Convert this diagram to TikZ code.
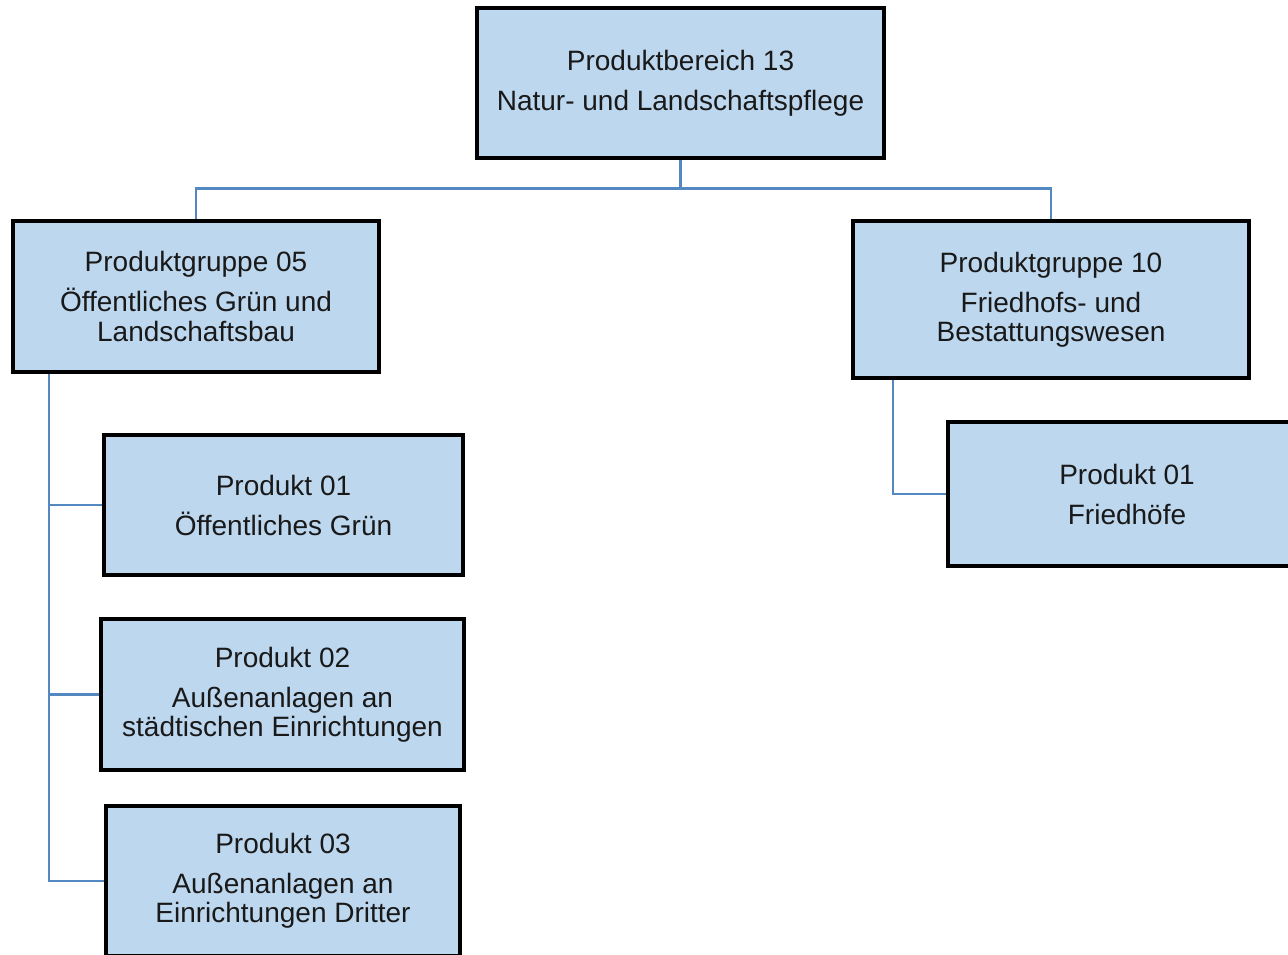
\documentclass[tikz,border=0pt]{standalone}
\usepackage{fontspec}
\setmainfont{Liberation Sans}
\definecolor{boxblue}{RGB}{189,215,238}
\definecolor{lineblue}{RGB}{84,136,193}
\tikzset{
  unit/.style={draw=black, line width=1.7pt, fill=boxblue, align=center, inner sep=0pt,
    text=black!90, font=\fontsize{21}{22}\selectfont},
  link/.style={draw=lineblue, line width=2pt}
}
\begin{document}
\begin{tikzpicture}[x=0.75pt, y=-0.75pt]
    \clip (0,0) rectangle (1288,954);
    \fill[white] (0,0) rectangle (1288,954);

    \node[unit, minimum width=304.5pt, minimum height=111.75pt] (pb13) at (680.5,83) {Produktbereich 13\\[8pt]Natur- und Landschaftspflege};
    \node[unit, minimum width=273.75pt, minimum height=112.5pt] (pg05) at (196,296.5) {Produktgruppe 05\\[8pt]Öffentliches Grün und\\Landschaftsbau};
    \node[unit, minimum width=296.25pt, minimum height=117pt] (pg10) at (1051,299.5) {Produktgruppe 10\\[8pt]Friedhofs- und\\Bestattungswesen};
    \node[unit, minimum width=268.5pt, minimum height=104.25pt] (p01) at (283.5,505) {Produkt 01\\[8pt]Öffentliches Grün};
    \node[unit, minimum width=271.5pt, minimum height=112.5pt] (p02) at (282.5,694.5) {Produkt 02\\[8pt]Außenanlagen an\\städtischen Einrichtungen};
    \node[unit, minimum width=264.75pt, minimum height=111.75pt] (p03) at (283,881) {Produkt 03\\[8pt]Außenanlagen an\\Einrichtungen Dritter};
    \node[unit, minimum width=267.75pt, minimum height=107.25pt] (pf01) at (1127,494) {Produkt 01\\[8pt]Friedhöfe};

    \coordinate (spine05) at (49,372);
    \coordinate (spine10) at (893,378);

    \draw[link] (pb13.south) -- ++(0,30) -| (pg05.north);
    \draw[link] (pb13.south) -- ++(0,30) -| (pg10.north);
    \draw[link] (pg05.south -| spine05) |- (p03.west);
    \draw[link] (spine05 |- p01.west) -- (p01.west);
    \draw[link] (spine05 |- p02.west) -- (p02.west);
    \draw[link] (pg10.south -| spine10) |- (pf01.west);

    \foreach \n in {pb13,pg05,pg10,p01,p02,p03,pf01}
        \draw[line width=1.7pt] (\n.south west) rectangle (\n.north east);
\end{tikzpicture}
\end{document}
